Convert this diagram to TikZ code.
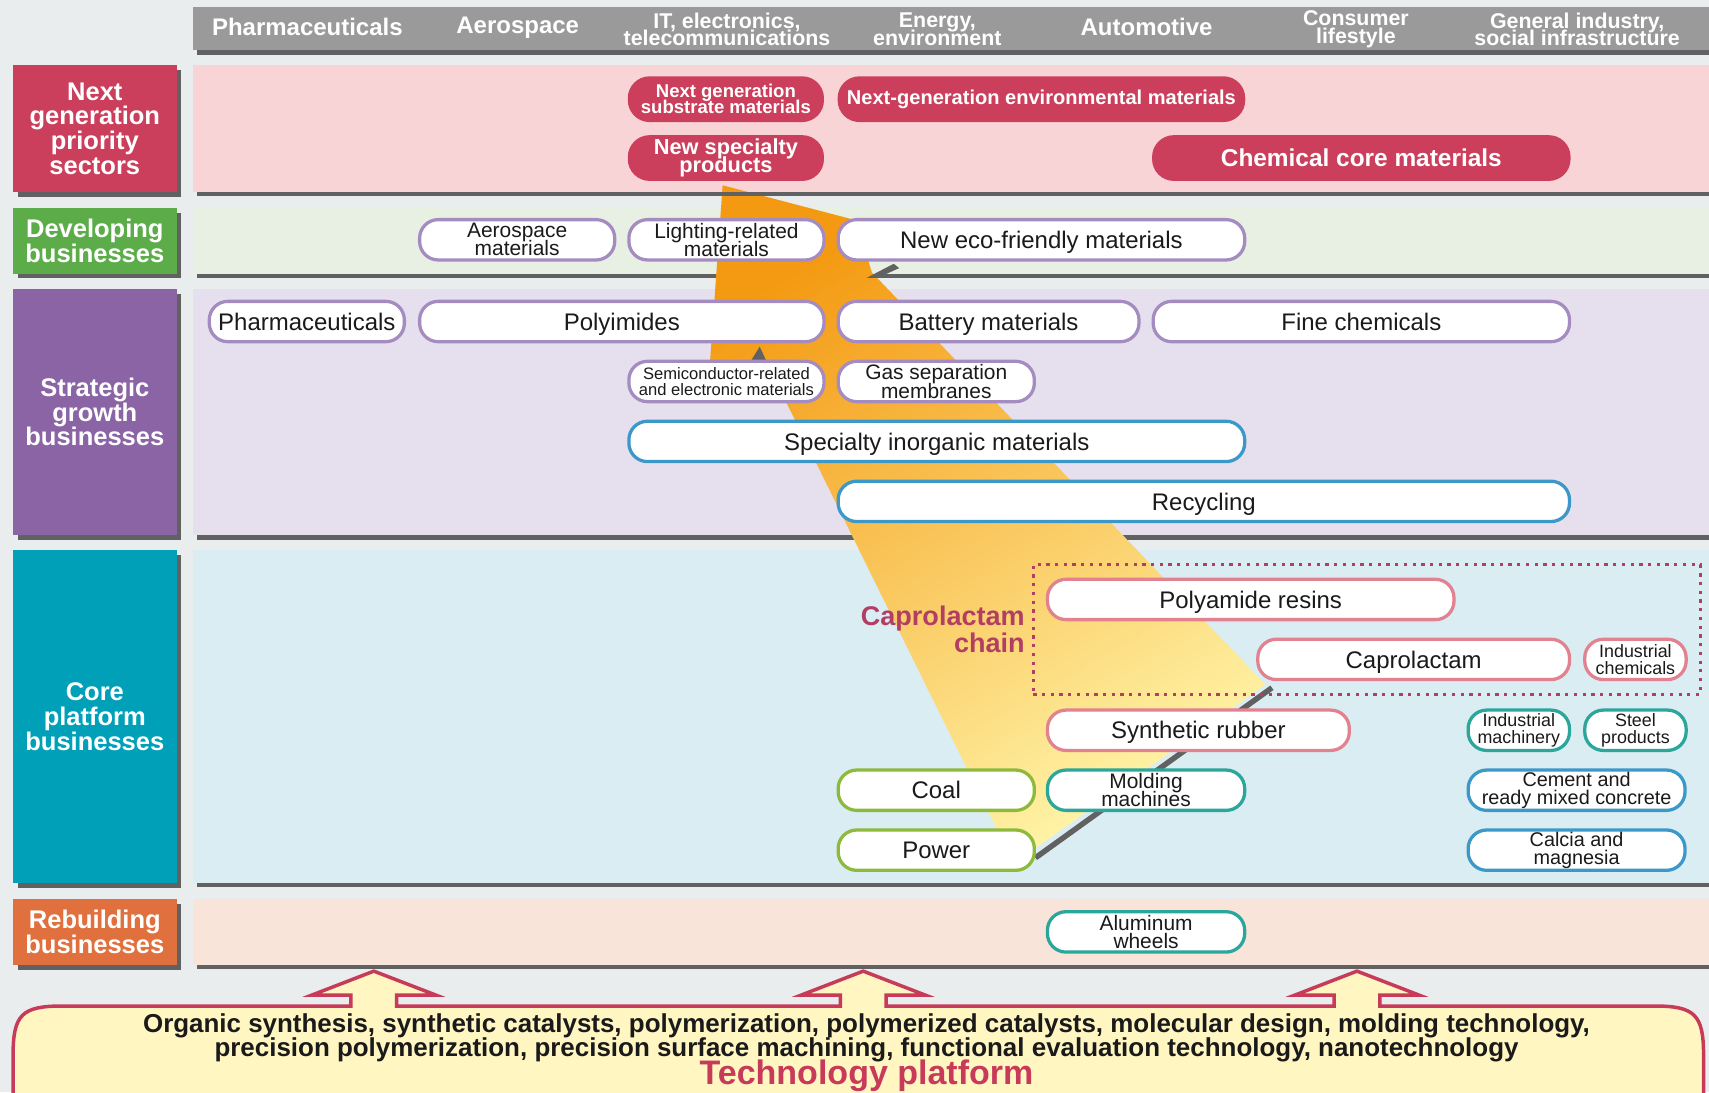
\documentclass[tikz,border=0pt]{standalone}
\usepackage{fontspec}
\setmainfont{Liberation Sans}
\usetikzlibrary{positioning,shadows}
\lineskiplimit=-20pt

\definecolor{pagebg}{HTML}{E9EDED}
\definecolor{headgray}{HTML}{9A9A9A}
\definecolor{shadowgray}{HTML}{616161}
\definecolor{nextred}{HTML}{CB3F5C}
\definecolor{devgreen}{HTML}{5CAD4A}
\definecolor{stratpurple}{HTML}{8A64A5}
\definecolor{coreteal}{HTML}{00A1B8}
\definecolor{rebuildorange}{HTML}{E0713F}
\definecolor{bandpink}{HTML}{F9D4D6}
\definecolor{bandgreen}{HTML}{E7F0E3}
\definecolor{bandlavender}{HTML}{E6E0EE}
\definecolor{bandblue}{HTML}{D9EDF3}
\definecolor{bandpeach}{HTML}{F9E4DA}
\definecolor{linepurple}{HTML}{A58CC0}
\definecolor{lineblue}{HTML}{3C98C8}
\definecolor{linepink}{HTML}{E2818F}
\definecolor{lineteal}{HTML}{2BA69A}
\definecolor{linegreen}{HTML}{8EBA3C}
\definecolor{chainred}{HTML}{B23F63}
\definecolor{platyellow}{HTML}{FFF6C2}
\definecolor{platred}{HTML}{C83A5A}
\definecolor{fanorange}{HTML}{F49A12}
\definecolor{fanmid}{HTML}{F9C24A}
\definecolor{fanyellow}{HTML}{FFF4A8}
\definecolor{inktext}{HTML}{1A1A1A}

\begin{document}
\begin{tikzpicture}[x=0.5pt,y=-0.5pt,
    band/.style={fill=#1,drop shadow={shadow xshift=2pt,shadow yshift=-2pt,fill=shadowgray,opacity=1}},
    side label/.style={fill=#1,text=white,minimum width=75pt,inner sep=0pt,align=center,
      font=\bfseries\fontsize{11.7}{11.3}\selectfont,
      drop shadow={shadow xshift=2.25pt,shadow yshift=-2.25pt,fill=shadowgray,opacity=1}},
    col head/.style={text=white,align=center,font=\bfseries\fontsize{11}{11}\selectfont},
    col head2/.style={col head,font=\bfseries\fontsize{9.8}{8.1}\selectfont},
    pill/.style={draw=#1,fill=white,text=inktext,line width=1.5pt,rounded corners=8.5pt,
      minimum height=18.5pt,inner sep=0pt,align=center,font=\fontsize{11}{11}\selectfont},
    solo/.style={text height=8pt,text depth=0pt},
    twoline/.style={font=\fontsize{9.6}{8.3}\selectfont},
    smallline/.style={font=\fontsize{8.2}{7.6}\selectfont},
    red pill/.style={fill=nextred,text=white,rounded corners=10pt,minimum height=21pt,
      inner sep=0pt,align=center,font=\bfseries\fontsize{11.2}{11}\selectfont}]

\useasboundingbox (0,0) rectangle (1568,1002);
\clip (0,0) rectangle (1568,1002);
\fill[pagebg] (0,0) rectangle (1568,1002);

% header row and bands
\path[band=headgray] (177,6) rectangle (1568,46);
\path[band=bandpink] (177,60) rectangle (1568,176);
\path[band=bandgreen] (177,191) rectangle (1568,251);
\path[band=bandlavender] (177,265) rectangle (1568,491);
\path[band=bandblue] (177,505) rectangle (1568,810);
\path[band=bandpeach] (177,825) rectangle (1568,885);

\node[col head] (hpharma) at (282,25) {Pharmaceuticals};
\node[col head] (haero) at (475,25) {Aerospace};
\node[col head2] (hit) at (667,27) {IT, electronics,\\telecommunications};
\node[col head2] (henergy) at (860,27) {Energy,\\environment};
\node[col head] (hauto) at (1052,25) {Automotive};
\node[col head2] (hconsumer) at (1244,27) {Consumer\\lifestyle};
\node[col head2] (hgeneral) at (1447,27) {General industry,\\social infrastructure};

% row labels
\node[side label=nextred,minimum height=58pt] (lnext) at (87,118) {Next\\generation\\priority\\sectors};
\node[side label=devgreen,minimum height=30pt] (ldev) at (87,221) {Developing\\businesses};
\node[side label=stratpurple,minimum height=113pt] (lstrat) at (87,378) {Strategic\\growth\\businesses};
\node[side label=coreteal,minimum height=152.5pt] (lcore) at (87,657.5) {Core\\platform\\businesses};
\node[side label=rebuildorange,minimum height=30pt] (lrebuild) at (87,855) {Rebuilding\\businesses};

% the fan behind the boxes
\draw[shadowgray,line width=2.5pt] (950,787) -- (1167,631);
\shade[top color=fanorange,middle color=fanmid,bottom color=fanyellow,shading angle=30]
  (663,170) -- (785,202) -- (800,250) -- (1161,628) -- (946,781) -- (930,792)
  -- (708,342) -- (651,338) -- cycle;
\fill[shadowgray] (181,176) rectangle (1568,180);
\fill[shadowgray] (795,255) -- (820,242) -- (825,246) -- (805,255) -- cycle;
\fill[shadowgray] (689,331) -- (697,318) -- (703,331) -- cycle;

% next generation priority sectors
\node[red pill,minimum width=90pt,font=\bfseries\fontsize{8.5}{7.4}\selectfont] (substrate) at (666,91) {Next generation\\substrate materials};
\node[red pill,minimum width=187pt,font=\bfseries\fontsize{9.2}{9}\selectfont] (envmat) at (955.5,91) {Next-generation environmental materials};
\node[red pill,minimum width=90pt,font=\bfseries\fontsize{10}{8.2}\selectfont] (newspec) at (666,145) {New specialty\\products};
\node[red pill,solo,minimum width=192pt] (chemcore) at (1249,145) {Chemical core materials};

% developing businesses
\node[pill=linepurple,twoline,minimum width=89.5pt] (aeromat) at (474.5,220) {Aerospace\\materials};
\node[pill=linepurple,twoline,minimum width=89.5pt] (lighting) at (666.5,220) {Lighting-related\\materials};
\node[pill=linepurple,solo,minimum width=186.5pt] (ecomat) at (955.5,220) {New eco-friendly materials};

% strategic growth businesses
\node[pill=linepurple,solo,minimum width=89.5pt] (pharma) at (281.5,295) {Pharmaceuticals};
\node[pill=linepurple,solo,minimum width=185.5pt] (polyimide) at (570.5,295) {Polyimides};
\node[pill=linepurple,solo,minimum width=138pt] (battery) at (907,295) {Battery materials};
\node[pill=linepurple,solo,minimum width=191pt] (finechem) at (1249,295) {Fine chemicals};
\node[pill=linepurple,minimum width=89.5pt,font=\fontsize{7.6}{7.4}\selectfont] (semicond) at (666.5,350) {Semiconductor-related\\and electronic materials};
\node[pill=linepurple,twoline,minimum width=90pt] (gassep) at (859,350) {Gas separation\\membranes};
\node[pill=lineblue,solo,minimum width=282.5pt] (inorganic) at (859.5,405) {Specialty inorganic materials};
\node[pill=lineblue,solo,minimum width=335.5pt] (recycling) at (1104.5,460) {Recycling};

% core platform businesses
\node[draw=chainred,line width=1.5pt,dash pattern=on 1.5pt off 2.5pt,minimum width=306pt,minimum height=59.5pt] (chainbox) at (1254,577.5) {};
\node[left=3pt of chainbox,inner sep=0pt,text=chainred,align=right,font=\bfseries\fontsize{12.4}{12.5}\selectfont] (chainlbl) {Caprolactam\\chain};
\node[pill=linepink,solo,minimum width=186.5pt] (polyamide) at (1147.5,550) {Polyamide resins};
\node[pill=linepink,solo,minimum width=143pt] (caprolactam) at (1297,605) {Caprolactam};
\node[pill=linepink,smallline,minimum width=46.5pt,right=5.5pt of caprolactam] (indchem) {Industrial\\chemicals};
\node[pill=linepink,solo,minimum width=138.5pt] (synrubber) at (1099.5,670) {Synthetic rubber};
\node[pill=lineteal,smallline,minimum width=46.5pt] (indmach) at (1393.5,670) {Industrial\\machinery};
\node[pill=lineteal,smallline,minimum width=46.5pt,right=5.5pt of indmach] (steel) {Steel\\products};
\node[pill=linegreen,solo,minimum width=90pt] (coal) at (859,725) {Coal};
\node[pill=lineteal,twoline,minimum width=90.5pt] (molding) at (1051.5,725) {Molding\\machines};
\node[pill=lineblue,minimum width=99.5pt,font=\fontsize{9.1}{8.1}\selectfont] (cement) at (1446.5,725) {Cement and\\ready mixed concrete};
\node[pill=linegreen,solo,minimum width=90pt] (power) at (859,780) {Power};
\node[pill=lineblue,minimum width=99.5pt,font=\fontsize{9.1}{8.1}\selectfont] (calcia) at (1446.5,780) {Calcia and\\magnesia};

% rebuilding businesses
\node[pill=lineteal,twoline,minimum width=90.5pt] (wheels) at (1051.5,855) {Aluminum\\wheels};

% technology platform with its three arrows
\filldraw[fill=platyellow,draw=platred,line width=1.6pt,line join=miter]
  (12,1040) -- (12,968) .. controls (12,931) and (20,923) .. (57,923)
  -- (322,923) -- (322,913) -- (286,913) -- (343,891) -- (400,913) -- (364,913) -- (364,923)
  -- (771,923) -- (771,913) -- (735,913) -- (792,891) -- (849,913) -- (813,913) -- (813,923)
  -- (1224,923) -- (1224,913) -- (1188,913) -- (1245,891) -- (1302,913) -- (1266,913) -- (1266,923)
  -- (1518,923) .. controls (1555,923) and (1563,931) .. (1563,968) -- (1563,1040) -- cycle;
\node[text=inktext,align=center,font=\bfseries\fontsize{11.9}{11}\selectfont] (techlist) at (795,952)
  {Organic synthesis, synthetic catalysts, polymerization, polymerized catalysts, molecular design, molding technology,\\
   precision polymerization, precision surface machining, functional evaluation technology, nanotechnology};
\node[text=platred,font=\bfseries\fontsize{15.6}{15}\selectfont] (techtitle) at (795,987) {Technology platform};
\end{tikzpicture}
\end{document}
